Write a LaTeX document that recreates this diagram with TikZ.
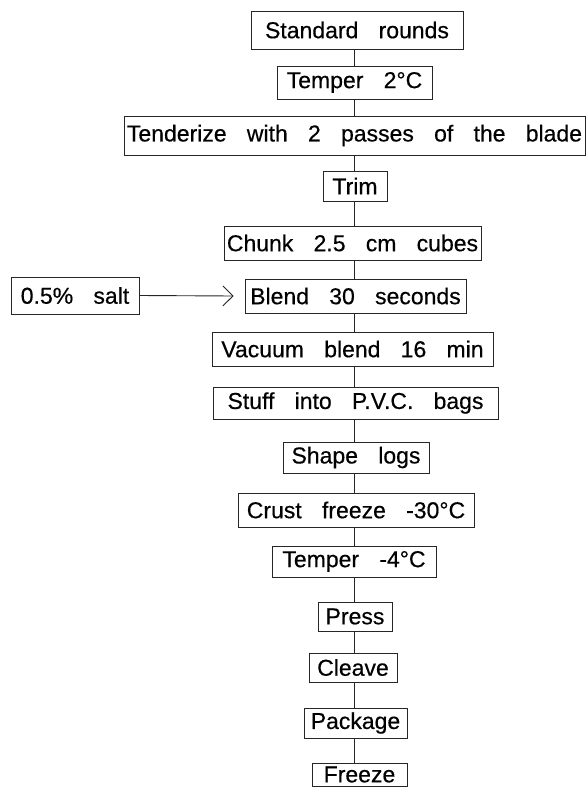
\documentclass[tikz,border=0pt]{standalone}
\usepackage{fontspec}
\setmainfont{Liberation Sans}
\newfontfamily\heavysans{Liberation Sans}[FakeBold=0.45]
\usetikzlibrary{arrows.meta}
\newcommand\boxfont{\heavysans\fontsize{23}{27}\selectfont\spaceskip=0.88em\relax\xspaceskip=0.88em\relax}
\begin{document}
\begin{tikzpicture}[x=1pt,y=-1pt,
  stepbox/.style={draw=black!85, line width=0.9pt, rectangle, inner sep=0pt, font=\boxfont, text=black},
  link/.style={draw=black!85, line width=0.9pt}]
\useasboundingbox (0,0) rectangle (587,787);
\coordinate (spine) at (354,0);
\node[stepbox, minimum width=212, minimum height=38] (n1) at (357,30) {Standard rounds};
\node[stepbox, minimum width=155, minimum height=33] (n2) at (354.5,82.5) {Temper 2°C};
\node[stepbox, minimum width=461, minimum height=39] (n3) at (354.5,135.5) {Tenderize with 2 passes of the blade};
\node[stepbox, minimum width=64, minimum height=30] (n4) at (355,186) {Trim};
\node[stepbox, minimum width=257, minimum height=34] (n5) at (352.5,243) {Chunk 2.5 cm cubes};
\node[stepbox, minimum width=221, minimum height=34] (n6) at (355.5,296) {Blend 30 seconds};
\node[stepbox, minimum width=128, minimum height=37] (salt) at (75,295.5) {0.5\% salt};
\node[stepbox, minimum width=281, minimum height=34] (n7) at (352.5,349) {Vacuum blend 16 min};
\node[stepbox, minimum width=285, minimum height=32] (n8) at (355.5,403) {Stuff into P.V.C. bags};
\node[stepbox, minimum width=146, minimum height=31] (n9) at (356,457.5) {Shape logs};
\node[stepbox, minimum width=236, minimum height=34] (n10) at (356,510) {Crust freeze -30°C};
\node[stepbox, minimum width=164, minimum height=31] (n11) at (354,561.5) {Temper -4°C};
\node[stepbox, minimum width=74, minimum height=29] (n12) at (355,616.5) {Press};
\node[stepbox, minimum width=88, minimum height=29] (n13) at (353,667.5) {Cleave};
\node[stepbox, minimum width=103, minimum height=30] (n14) at (355.5,723) {Package};
\node[stepbox, minimum width=95, minimum height=23] (n15) at (359.5,774.5) {Freeze};
\foreach \a/\b in {n1/n2,n2/n3,n3/n4,n4/n5,n5/n6,n6/n7,n7/n8,n8/n9,n9/n10,n10/n11,n11/n12,n12/n13,n13/n14,n14/n15}
  \draw[link] (\a.south -| spine) -- (\b.north -| spine);
\draw[link, -{Straight Barb[length=10pt,width=20pt,line width=0.9pt]}] (salt.east) -- ([xshift=-11pt]n6.west);
\end{tikzpicture}
\end{document}
